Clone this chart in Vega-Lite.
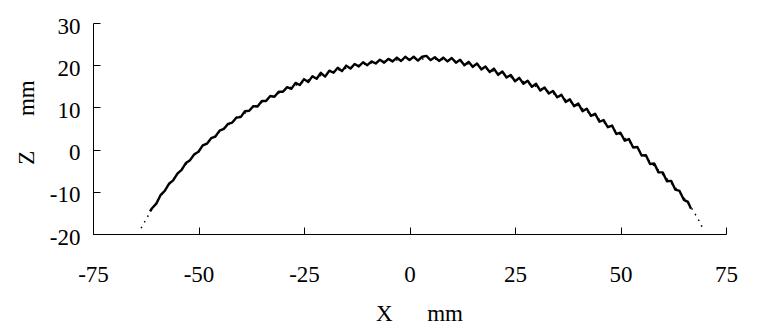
{
  "$schema": "https://vega.github.io/schema/vega-lite/v6.json",
  "width": 633,
  "height": 211,
  "autosize": "none",
  "padding": {"left": 93, "top": 23, "right": 34, "bottom": 91},
  "background": "white",
  "datasets": {
    "fit": [
      {"x": -63.6, "z": -18.6}, {"x": -63, "z": -17.55}, {"x": -62, "z": -15.79}, {"x": -61, "z": -14.13},
      {"x": -60, "z": -12.56}, {"x": -58, "z": -9.65}, {"x": -56, "z": -7.01}, {"x": -54, "z": -4.6},
      {"x": -52, "z": -2.37}, {"x": -50, "z": -0.31}, {"x": -48, "z": 1.6}, {"x": -46, "z": 3.38},
      {"x": -44, "z": 5.03}, {"x": -42, "z": 6.57}, {"x": -40, "z": 8.01}, {"x": -36, "z": 10.61},
      {"x": -32, "z": 12.87}, {"x": -28, "z": 14.82}, {"x": -24, "z": 16.49}, {"x": -20, "z": 17.9},
      {"x": -16, "z": 19.06}, {"x": -12, "z": 19.99}, {"x": -8, "z": 20.69}, {"x": -4, "z": 21.17},
      {"x": 0, "z": 21.44}, {"x": 4, "z": 21.49}, {"x": 8, "z": 21.33}, {"x": 12, "z": 20.76},
      {"x": 16, "z": 19.77}, {"x": 20, "z": 18.56}, {"x": 24, "z": 17.11}, {"x": 28, "z": 15.73},
      {"x": 32, "z": 14.19}, {"x": 36, "z": 12.38}, {"x": 40, "z": 10.28}, {"x": 44, "z": 7.86},
      {"x": 48, "z": 5.07}, {"x": 50, "z": 3.53}, {"x": 52, "z": 1.88}, {"x": 54, "z": 0.1},
      {"x": 56, "z": -1.81}, {"x": 58, "z": -3.87}, {"x": 60, "z": -5.9}, {"x": 62, "z": -7.91},
      {"x": 64, "z": -10.15}, {"x": 65, "z": -11.37}, {"x": 66, "z": -12.71}, {"x": 67, "z": -14.13},
      {"x": 68, "z": -15.79}, {"x": 69, "z": -17.55}, {"x": 69.6, "z": -19.1}
    ],
    "meas": [
      {"x": -61.5, "z": -14.6}, {"x": -61, "z": -13.9}, {"x": -60, "z": -12.8}, {"x": -59, "z": -10.8},
      {"x": -58, "z": -9.8}, {"x": -57, "z": -8.1}, {"x": -56, "z": -7.3}, {"x": -55, "z": -5.7},
      {"x": -54, "z": -4.8}, {"x": -53, "z": -3.2}, {"x": -52, "z": -2.5}, {"x": -51, "z": -1.1},
      {"x": -50, "z": -0.5}, {"x": -49, "z": 1.0}, {"x": -48, "z": 1.4}, {"x": -47, "z": 2.7},
      {"x": -46, "z": 3.1}, {"x": -45, "z": 4.5}, {"x": -44, "z": 4.9}, {"x": -43, "z": 6.1},
      {"x": -42, "z": 6.4}, {"x": -41, "z": 7.6}, {"x": -40, "z": 7.7}, {"x": -39, "z": 9.1},
      {"x": -38, "z": 9.2}, {"x": -37, "z": 10.3}, {"x": -36, "z": 10.2}, {"x": -35, "z": 11.5},
      {"x": -34, "z": 11.5}, {"x": -33, "z": 12.7}, {"x": -32, "z": 12.5}, {"x": -31, "z": 13.7},
      {"x": -30, "z": 13.7}, {"x": -29, "z": 14.8}, {"x": -28, "z": 14.4}, {"x": -27, "z": 15.8},
      {"x": -26, "z": 15.3}, {"x": -25, "z": 16.7}, {"x": -24, "z": 16.0}, {"x": -23, "z": 17.4},
      {"x": -22, "z": 16.8}, {"x": -21, "z": 18.2}, {"x": -20, "z": 17.3}, {"x": -19, "z": 18.7},
      {"x": -18, "z": 18.2}, {"x": -17, "z": 19.4}, {"x": -16, "z": 18.6}, {"x": -15, "z": 19.9},
      {"x": -14, "z": 19.2}, {"x": -13, "z": 20.3}, {"x": -12, "z": 19.7}, {"x": -11, "z": 20.7},
      {"x": -10, "z": 20.0}, {"x": -9, "z": 20.9}, {"x": -8, "z": 20.4}, {"x": -7, "z": 21.3},
      {"x": -6, "z": 20.6}, {"x": -5, "z": 21.5}, {"x": -4, "z": 20.9}, {"x": -3, "z": 21.8},
      {"x": -2, "z": 21.0}, {"x": -1, "z": 22.0}, {"x": 0, "z": 21.2}, {"x": 1, "z": 22.0},
      {"x": 2, "z": 21.1}, {"x": 3, "z": 22.0}, {"x": 4, "z": 22.2}, {"x": 5, "z": 21.2},
      {"x": 6, "z": 21.9}, {"x": 7, "z": 21.0}, {"x": 8, "z": 21.8}, {"x": 9, "z": 20.9},
      {"x": 10, "z": 21.7}, {"x": 11, "z": 20.6}, {"x": 12, "z": 21.3}, {"x": 13, "z": 20.0},
      {"x": 14, "z": 20.8}, {"x": 15, "z": 19.6}, {"x": 16, "z": 20.4}, {"x": 17, "z": 19.0},
      {"x": 18, "z": 19.7}, {"x": 19, "z": 18.4}, {"x": 20, "z": 19.2}, {"x": 21, "z": 17.7},
      {"x": 22, "z": 18.5}, {"x": 23, "z": 17.1}, {"x": 24, "z": 17.7}, {"x": 25, "z": 16.2},
      {"x": 26, "z": 17.0}, {"x": 27, "z": 15.6}, {"x": 28, "z": 16.3}, {"x": 29, "z": 14.9},
      {"x": 30, "z": 15.6}, {"x": 31, "z": 14.0}, {"x": 32, "z": 14.7}, {"x": 33, "z": 13.3},
      {"x": 34, "z": 13.9}, {"x": 35, "z": 12.4}, {"x": 36, "z": 13.0}, {"x": 37, "z": 11.3},
      {"x": 38, "z": 11.9}, {"x": 39, "z": 10.3}, {"x": 40, "z": 10.9}, {"x": 41, "z": 9.1},
      {"x": 42, "z": 9.7}, {"x": 43, "z": 8.0}, {"x": 44, "z": 8.5}, {"x": 45, "z": 6.6},
      {"x": 46, "z": 7.0}, {"x": 47, "z": 5.3}, {"x": 48, "z": 5.7}, {"x": 49, "z": 3.7},
      {"x": 50, "z": 4.0}, {"x": 51, "z": 2.1}, {"x": 52, "z": 2.5}, {"x": 53, "z": 0.5},
      {"x": 54, "z": 0.6}, {"x": 55, "z": -1.4}, {"x": 56, "z": -1.3}, {"x": 57, "z": -3.4},
      {"x": 58, "z": -3.3}, {"x": 59, "z": -5.4}, {"x": 60, "z": -5.4}, {"x": 61, "z": -7.5},
      {"x": 62, "z": -7.4}, {"x": 63, "z": -9.5}, {"x": 64, "z": -9.8}, {"x": 65, "z": -11.9},
      {"x": 66, "z": -12.4}, {"x": 66.7, "z": -14.0}
    ]
  },
  "config": {
    "view": {"stroke": null},
    "font": "Liberation Serif",
    "axis": {
      "grid": false,
      "domainColor": "#000000",
      "domainWidth": 1,
      "tickColor": "#000000",
      "tickWidth": 1,
      "tickSize": -7,
      "labelFont": "Liberation Serif",
      "labelFontSize": 23,
      "labelColor": "#000000",
      "labelFlush": false,
      "labelOverlap": false,
      "labelExpr": "datum.value < 0 ? '-' + abs(datum.value) : '' + datum.value",
      "titleFont": "Liberation Serif",
      "titleFontSize": 23,
      "titleFontWeight": "normal",
      "titleColor": "#000000"
    }
  },
  "encoding": {
    "x": {
      "field": "x",
      "type": "quantitative",
      "scale": {"domain": [-75, 75], "nice": false, "zero": false},
      "axis": {
        "values": [-75, -50, -25, 0, 25, 50, 75],
        "labelPadding": 36,
        "title": "X\u00a0\u00a0\u00a0\u00a0\u00a0\u00a0mm",
        "titleX": 326,
        "titleY": 86,
        "titleBaseline": "alphabetic",
        "titleAlign": "center"
      }
    },
    "y": {
      "field": "z",
      "type": "quantitative",
      "scale": {"domain": [-20, 30], "nice": false, "zero": false},
      "axis": {
        "values": [-20, -10, 0, 10, 20, 30],
        "labelPadding": 20,
        "labelOffset": 3,
        "title": "Z\u00a0\u00a0\u00a0\u00a0\u00a0\u00a0mm",
        "titleAngle": -90,
        "titleX": -60,
        "titleY": 99,
        "titleBaseline": "alphabetic",
        "titleAlign": "center"
      }
    }
  },
  "layer": [
    {
      "data": {"name": "fit"},
      "mark": {"type": "line", "color": "#000000", "strokeWidth": 1.5, "strokeDash": [1.5, 5], "clip": false}
    },
    {
      "data": {"name": "meas"},
      "mark": {"type": "line", "color": "#000000", "strokeWidth": 2.4, "strokeJoin": "round"}
    }
  ]
}
